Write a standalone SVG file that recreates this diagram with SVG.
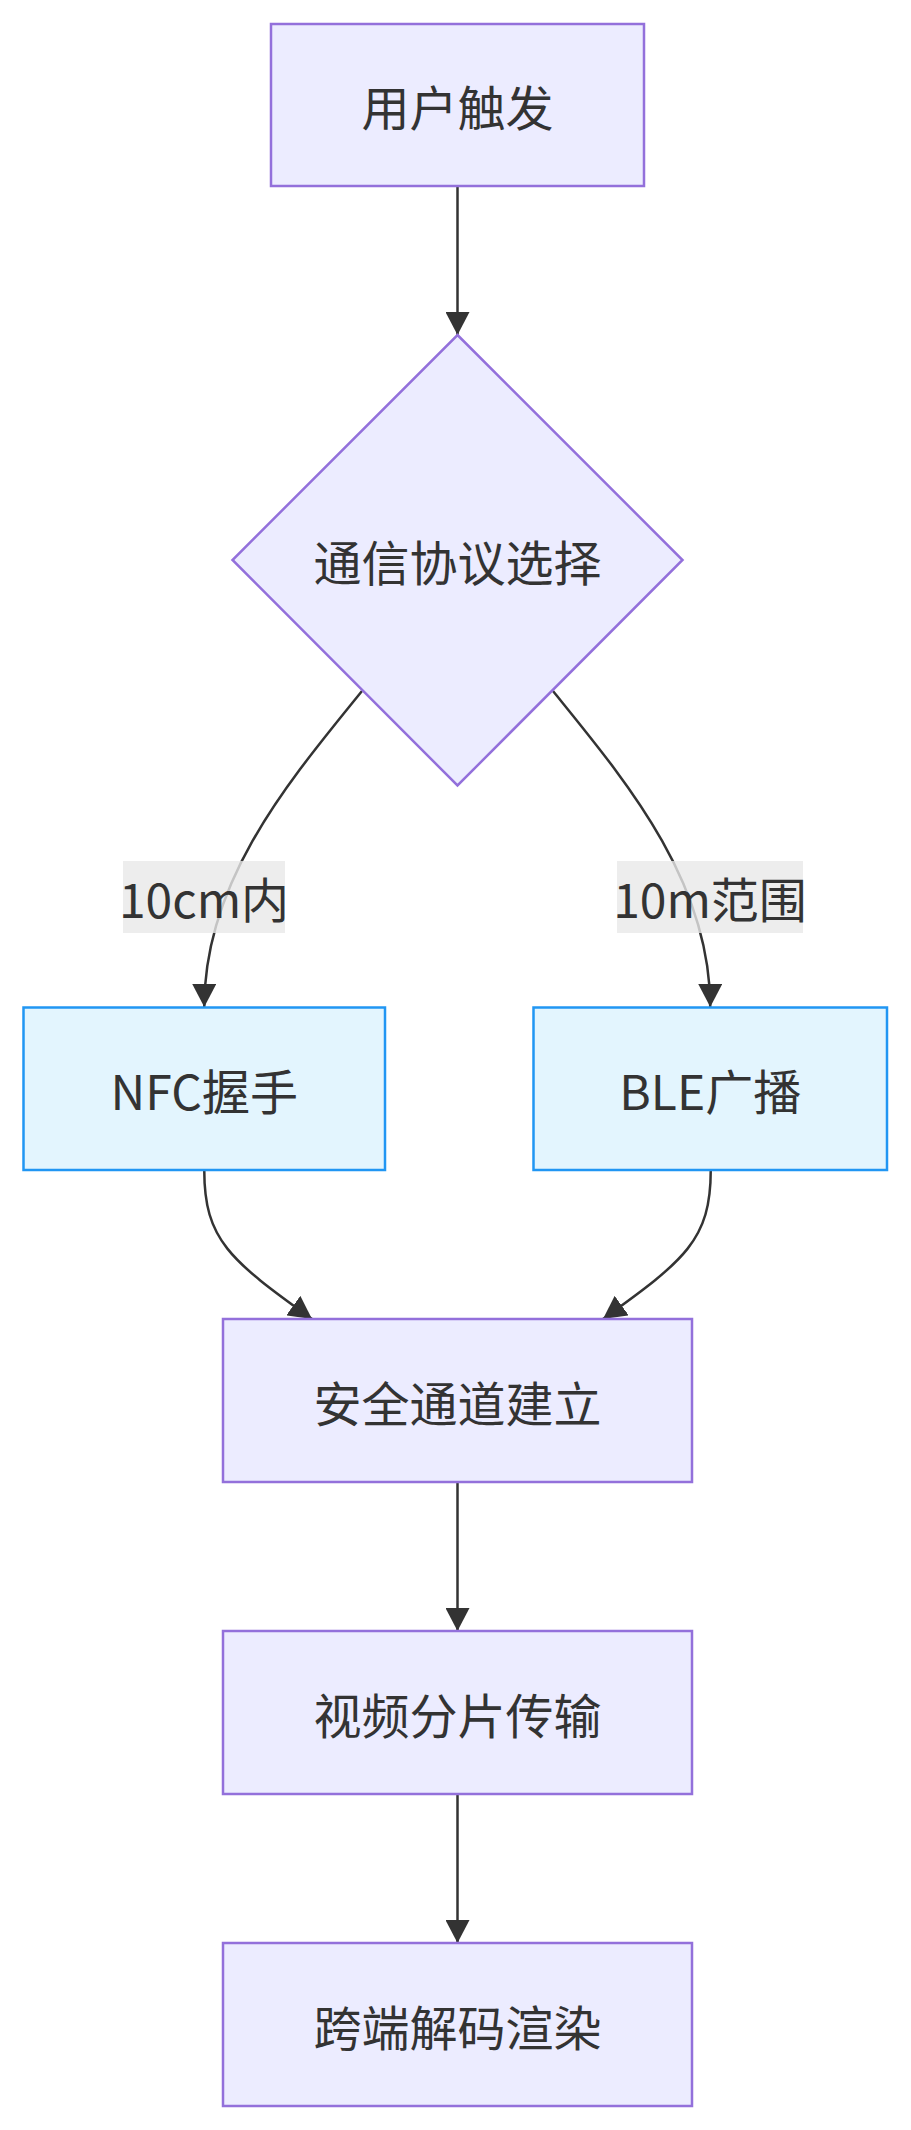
<svg xmlns="http://www.w3.org/2000/svg" width="911" height="2130" viewBox="0 0 911 2130">
<style>
.bg{fill:#ffffff}
.node rect,.node polygon{fill:#ECECFF;stroke:#9370DB;stroke-width:2.5}
.node.blue rect{fill:#E3F5FE;stroke:#2196F3;stroke-width:2.5}
.lbl{font-family:"Noto Sans CJK SC","Noto Sans",sans-serif;font-size:48px;fill:#333333;text-anchor:middle;dominant-baseline:central}
.edge{fill:none;stroke:#333333;stroke-width:2.5;marker-end:url(#arrow)}
.elbg{fill:rgba(232,232,232,0.8)}
</style>
<defs>
<marker id="arrow" viewBox="0 0 23 24" refX="23" refY="12" markerWidth="23" markerHeight="24" markerUnits="userSpaceOnUse" orient="auto">
<path d="M0,0 L23,12 L0,24 z" fill="#333333"/>
</marker>
</defs>
<rect class="bg" x="0" y="0" width="911" height="2130"/>
<g id="connectors">
<path class="edge" d="M457.5,186 L457.5,335"/>
<path class="edge" d="M362,691 C290,780 204.25,880 204.25,1007"/>
<path class="edge" d="M553,691 C625,780 710.25,880 710.25,1007"/>
<path class="edge" d="M204.25,1170 C204.25,1240 230,1260 312,1319"/>
<path class="edge" d="M710.75,1170 C710.75,1240 685,1260 603,1319"/>
<path class="edge" d="M457.5,1482 L457.5,1631"/>
<path class="edge" d="M457.5,1794 L457.5,1943"/>
</g>
<g id="edge-labels">
<g id="label-nfc">
<rect class="elbg" x="123" y="861" width="162" height="72"/>
<text class="lbl" x="204" y="897">10cm内</text>
</g>
<g id="label-ble">
<rect class="elbg" x="617" y="861" width="186" height="72"/>
<text class="lbl" x="710" y="897">10m范围</text>
</g>
</g>
<g id="node-trigger" class="node">
<rect x="271" y="24" width="373" height="162"/>
<text class="lbl" x="457.5" y="105">用户触发</text>
</g>
<g id="node-protocol" class="node">
<polygon points="457.5,335 682.5,560 457.5,785.5 232.5,560"/>
<text class="lbl" x="457.5" y="560">通信协议选择</text>
</g>
<g id="node-nfc" class="node blue">
<rect x="23.5" y="1007.5" width="361.5" height="162.5"/>
<text class="lbl" x="204.25" y="1088.5">NFC握手</text>
</g>
<g id="node-ble" class="node blue">
<rect x="533.5" y="1007.5" width="353.5" height="162.5"/>
<text class="lbl" x="710.25" y="1088.5">BLE广播</text>
</g>
<g id="node-secure" class="node">
<rect x="223" y="1319" width="469" height="163"/>
<text class="lbl" x="457.5" y="1400.5">安全通道建立</text>
</g>
<g id="node-video" class="node">
<rect x="223" y="1631" width="469" height="163"/>
<text class="lbl" x="457.5" y="1712.5">视频分片传输</text>
</g>
<g id="node-render" class="node">
<rect x="223" y="1943" width="469" height="163"/>
<text class="lbl" x="457.5" y="2024.5">跨端解码渲染</text>
</g>
</svg>
